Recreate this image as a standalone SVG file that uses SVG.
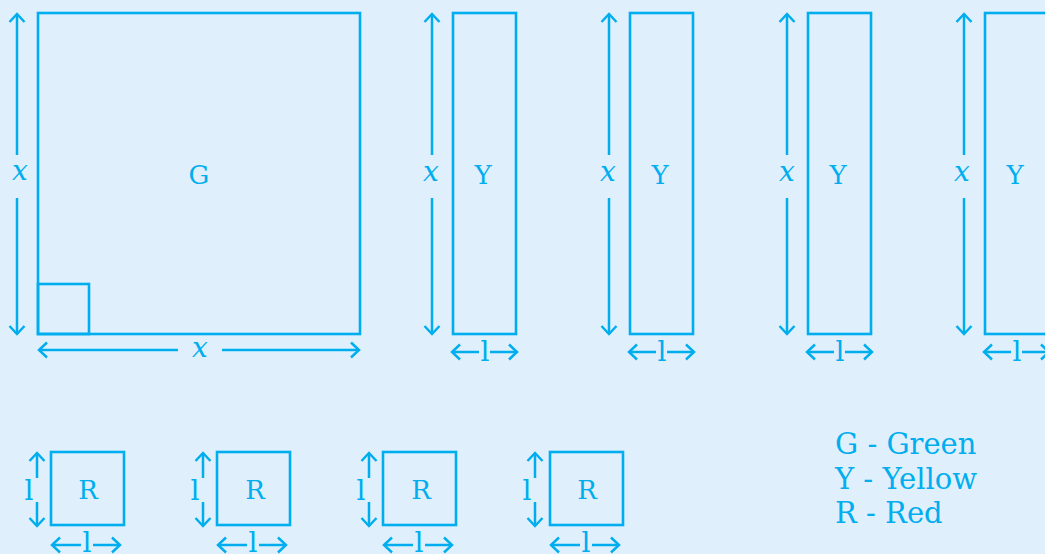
<svg xmlns="http://www.w3.org/2000/svg" width="1045" height="554" viewBox="0 0 1045 554">
<defs>
<marker id="ah" viewBox="-10 -9 12 18" markerWidth="12" markerHeight="18" refX="0" refY="0" orient="auto-start-reverse" markerUnits="userSpaceOnUse">
<path d="M-8,-7.5 L0,0 L-8,7.5" fill="none" stroke="#00aeef" stroke-width="2.5"/>
</marker>
</defs>
<style>
.bg{fill:#dff0fc}
.sh{fill:none;stroke:#00aeef;stroke-width:2.6}
.ar2{fill:none;stroke:#00aeef;stroke-width:2.5;marker-end:url(#ah)}
.t{fill:#00aeef;font-family:"DejaVu Serif","Liberation Serif",serif;font-size:26px;text-anchor:middle}
.l{fill:#00aeef;font-family:"DejaVu Serif","Liberation Serif",serif;font-size:28px;text-anchor:middle}
.xi{fill:#00aeef;font-family:"DejaVu Serif","Liberation Serif",serif;font-style:italic;font-size:28px;text-anchor:middle}
.lg{fill:#00aeef;font-family:"DejaVu Serif","Liberation Serif",serif;font-size:29px}
</style>
<rect class="bg" width="1045" height="554"/>
<g id="nodeG">
<rect class="sh" x="38" y="13" width="322" height="321"/>
<rect class="sh" x="38" y="284" width="51" height="50"/>
<text class="t" x="199" y="184">G</text>
</g>
<g id="nodeY1"><rect class="sh" x="453" y="13" width="63" height="321"/><text class="t" x="483" y="184">Y</text></g>
<g id="nodeY2"><rect class="sh" x="630" y="13" width="63" height="321"/><text class="t" x="660" y="184">Y</text></g>
<g id="nodeY3"><rect class="sh" x="808" y="13" width="63" height="321"/><text class="t" x="838" y="184">Y</text></g>
<g id="nodeY4"><rect class="sh" x="985" y="13" width="63" height="321"/><text class="t" x="1015" y="184">Y</text></g>
<g id="nodeR1"><rect class="sh" x="51" y="452" width="73" height="73"/><text class="t" x="88" y="499">R</text></g>
<g id="nodeR2"><rect class="sh" x="217" y="452" width="73" height="73"/><text class="t" x="255" y="499">R</text></g>
<g id="nodeR3"><rect class="sh" x="383" y="452" width="73" height="73"/><text class="t" x="421" y="499">R</text></g>
<g id="nodeR4"><rect class="sh" x="550" y="452" width="73" height="73"/><text class="t" x="587" y="499">R</text></g>
<g id="connectors">
<path class="ar2" d="M17,155 L17,14"/>
<path class="ar2" d="M17,198 L17,334"/>
<text class="xi" x="20" y="180">x</text>
<path class="ar2" d="M178,350 L39,350"/>
<path class="ar2" d="M222,350 L359,350"/>
<text class="xi" x="200" y="357">x</text>
<path class="ar2" d="M432,155 L432,14"/><path class="ar2" d="M432,198 L432,334"/><text class="xi" x="431" y="181">x</text>
<path class="ar2" d="M609,155 L609,14"/><path class="ar2" d="M609,198 L609,334"/><text class="xi" x="608" y="181">x</text>
<path class="ar2" d="M787,155 L787,14"/><path class="ar2" d="M787,198 L787,334"/><text class="xi" x="787" y="181">x</text>
<path class="ar2" d="M964,155 L964,14"/><path class="ar2" d="M964,198 L964,334"/><text class="xi" x="962" y="181">x</text>
<path class="ar2" d="M479,352 L452,352"/><path class="ar2" d="M490,352 L517,352"/><text class="l" x="485" y="361">l</text>
<path class="ar2" d="M656,352 L629,352"/><path class="ar2" d="M667,352 L694,352"/><text class="l" x="662" y="361">l</text>
<path class="ar2" d="M834,352 L807,352"/><path class="ar2" d="M845,352 L872,352"/><text class="l" x="840" y="361">l</text>
<path class="ar2" d="M1011,352 L984,352"/><path class="ar2" d="M1022,352 L1049,352"/><text class="l" x="1017" y="361">l</text>
<path class="ar2" d="M37,478 L37,453"/><path class="ar2" d="M37,502 L37,526"/><text class="l" x="29" y="500">l</text>
<path class="ar2" d="M203,478 L203,453"/><path class="ar2" d="M203,502 L203,526"/><text class="l" x="195" y="500">l</text>
<path class="ar2" d="M369,478 L369,453"/><path class="ar2" d="M369,502 L369,526"/><text class="l" x="361" y="500">l</text>
<path class="ar2" d="M535,478 L535,453"/><path class="ar2" d="M535,502 L535,526"/><text class="l" x="527" y="500">l</text>
<path class="ar2" d="M81,545 L52,545"/><path class="ar2" d="M93,545 L120,545"/><text class="l" x="87" y="552">l</text>
<path class="ar2" d="M247,545 L218,545"/><path class="ar2" d="M259,545 L286,545"/><text class="l" x="253" y="552">l</text>
<path class="ar2" d="M413,545 L384,545"/><path class="ar2" d="M425,545 L452,545"/><text class="l" x="419" y="552">l</text>
<path class="ar2" d="M580,545 L551,545"/><path class="ar2" d="M592,545 L619,545"/><text class="l" x="586" y="552">l</text>
</g>
<g id="legend">
<text class="lg" x="835" y="454">G - Green</text>
<text class="lg" x="835" y="489">Y - Yellow</text>
<text class="lg" x="835" y="523">R - Red</text>
</g>
</svg>
